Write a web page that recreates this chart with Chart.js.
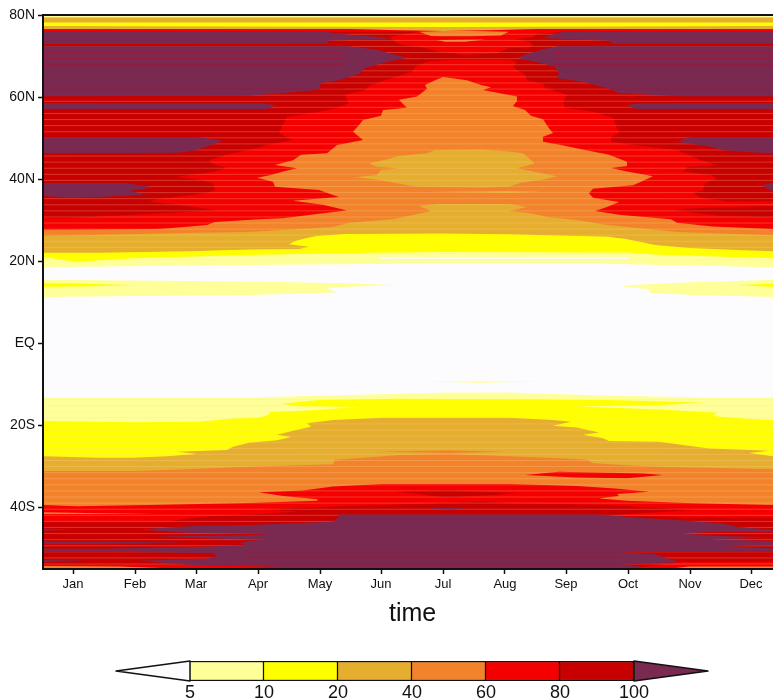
<!DOCTYPE html>
<html>
<head>
<meta charset="utf-8">
<title>time latitude contour</title>
<script src="https://cdn.jsdelivr.net/npm/chart.js@4/dist/chart.umd.min.js"></script>
<style>
  body { margin: 0; background: #fff; }
  canvas { position: absolute; left: 0; }
  #plot { top: 0; }
  #colorbar { top: 650px; }
  #xtitle { position: absolute; left: 389px; top: 598px; color: #111; font: 25px 'Liberation Sans', sans-serif; }
</style>
</head>
<body>
<canvas id="plot" width="773" height="628"></canvas>
<div id="xtitle">time</div>
<canvas id="colorbar" width="773" height="50"></canvas>
<script>
// axis labels, x is day of the year and y is latitude
const months = ["Jan", "Feb", "Mar", "Apr", "May", "Jun", "Jul", "Aug", "Sep", "Oct", "Nov", "Dec"];
const monthDays = [15, 46, 76.5, 107.5, 138.5, 169, 200, 231, 261.5, 292.5, 323.5, 354];
const latTicks = [80, 60, 40, 20, 0, -20, -40];
const latLabels = ["80N", "60N", "40N", "20N", "EQ", "20S", "40S"];
const levelLabels = ["5", "10", "20", "40", "60", "80", "100"];

const WHITE = "#FCFCFF", LEMON = "#FFFF99", YELLOW = "#FFFF00", GOLD = "#E6AE2E";
const ORANGE = "#F2832B", RED = "#F50000", DARK = "#C80000", PURPLE = "#7A2A50";
const ROWLINE = "rgba(255,215,170,0.26)", PURPLELINE = "rgba(200,0,30,0.45)";
const barColors = [LEMON, YELLOW, GOLD, ORANGE, RED, DARK];

// latitudes of the thin lighter rows that show through the fills
const rowLats = [-53.9,-52.42,-50.93,-49.45,-47.96,-46.48,-44.99,-43.51,-42.02,-40.54,-39.05,-37.57,-36.08,-34.6,-33.11,-31.63,-30.14,-28.66,-27.17,-25.69,-24.2,-22.72,-21.23,-19.75,-18.26,-16.78,-15.29,-13.81,
    20.35,21.83,23.32,24.8,26.29,27.77,29.26,30.74,32.23,33.71,35.2,36.68,38.17,39.65,41.14,42.62,44.11,45.59,47.08,48.56,50.05,51.53,53.02,54.5,55.99,57.47,58.96,60.44,61.93,63.41,64.9,66.38,67.87,69.35,70.84,72.32,73.81,75.29];
// the few rows that stay visible inside the purple areas
const purpleRowsLeft = [70.84, 69.35, 67.87, 61.93];
const purpleRowsRight = [70.84, 69.35, 67.87, 61.93];
const purpleRowsSouth = [-50.93, -52.42, -53.9];

// contour regions as [day, latitude] outlines
const plotArea = [[0,80],[365,80],[365,-55.12],[0,-55.12]];

// northern hemisphere, outer levels first
const lemonNorth = [[0,80],[365,80],[365,18.5],[278,19.3],[200,19.4],[103,19.0],[0,18.5]];
const yellowNorth = [[0,79.5],[365,79.5],[365,20.7],[308,21.5],[293,22.1],[200,22.2],[163,22.0],[108,21.5],[45,20.7],[16,19.8],[0,21.0]];
const goldNorth = [[0,22.0],[28,22.0],[73,22.4],[103,22.8],[128,22.9],[133,23.5],[123,24.1],[126,24.9],[132,25.6],[137,26.1],[151,26.6],[200,26.7],[233,26.5],[283,25.9],[287,25.6],[291,25.4],[306,23.9],[323,23.2],[350,22.6],[365,22.4],[365,79.4],[0,79.4]];
const yellowStrip = [[0,78.2],[365,78.2],[365,77.3],[200,77.1],[0,77.3]];
const orangeNorth = [[0,26.1],[78,26.9],[103,27.1],[145,28.3],[153,29.3],[175,30.2],[188,31.5],[194,32.2],[188,33.4],[197,33.9],[233,33.9],[242,33.2],[233,32.2],[243,31.7],[253,30.7],[267,30.0],[282,28.8],[317,27.1],[365,26.3],[365,76.6],[248,76.6],[223,76.3],[200,76.1],[178,76.3],[153,76.6],[0,76.6]];
const redNorth = [[0,27.6],[57,27.8],[63,28.0],[82,28.8],[86,29.5],[108,30.2],[120,30.4],[138,31.5],[152,32.3],[140,33.7],[125,34.7],[148,35.6],[145,36.1],[138,37.3],[116,38.1],[115,39.3],[107,40.3],[114,41.0],[120,41.8],[127,42.6],[116,43.4],[125,44.6],[129,45.9],[142,46.3],[144,47.1],[147,48.3],[160,49.5],[155,51.5],[158,53.2],[160,54.4],[169,55.4],[170,56.8],[182,57.4],[180,58.3],[178,59.3],[187,60.1],[192,62.0],[191,62.9],[196,64.1],[200,64.9],[212,64.1],[219,62.9],[224,62.4],[220,61.7],[237,60.1],[237,59.0],[235,57.8],[241,56.8],[244,55.4],[250,54.6],[253,52.4],[255,51.2],[250,50.3],[250,49.1],[259,48.3],[271,47.1],[283,45.9],[292,44.2],[292,43.2],[284,42.7],[292,41.8],[305,40.7],[299,39.3],[295,38.5],[275,37.6],[273,36.5],[275,35.4],[288,34.4],[282,33.2],[276,32.2],[289,31.2],[314,30.2],[317,29.3],[335,28.4],[365,27.8],[365,76.6],[248,76.6],[223,76.3],[200,76.1],[178,76.3],[153,76.6],[0,76.6]];
const darkLeft = [[0,75.9],[188,75.9],[173,74.7],[177,73.2],[180,72.7],[192,71.9],[198,71.0],[205,70.7],[213,70.0],[213,69.3],[202,69.0],[192,68.6],[186,67.4],[185,66.3],[180,65.4],[173,64.4],[164,62.9],[161,61.7],[151,60.5],[153,58.5],[147,57.3],[138,56.4],[122,55.1],[120,53.2],[118,51.2],[125,49.5],[112,48.3],[108,47.6],[93,46.1],[83,44.6],[85,43.7],[92,42.7],[83,41.5],[67,40.6],[78,39.8],[85,39.0],[86,37.3],[82,36.6],[58,35.1],[53,34.5],[67,33.7],[87,32.4],[62,31.7],[12,30.4],[0,30.5]];
const darkRight = [[365,75.9],[260,75.9],[247,75.4],[245,74.6],[236,74.1],[243,73.5],[245,72.7],[243,72.0],[233,72.0],[227,70.7],[198,70.0],[191,69.5],[202,69.0],[233,69.0],[237,68.6],[235,67.4],[237,66.6],[241,65.4],[242,64.1],[250,63.2],[251,62.2],[262,60.5],[260,58.9],[261,57.3],[275,56.4],[285,54.9],[287,52.4],[288,51.2],[284,50.2],[284,49.1],[295,48.3],[304,47.8],[317,47.1],[329,44.6],[337,43.4],[322,43.0],[320,41.8],[334,41.0],[337,40.0],[331,39.0],[330,37.3],[325,36.6],[329,35.4],[342,34.5],[365,34.6]];
const darkStreak = [[315,32.4],[329,33.0],[365,33.4],[365,30.7],[339,31.0]];
const purpleA = [[0,75.9],[141,75.9],[153,75.2],[175,74.4],[164,74.0],[143,73.8],[142,73.0],[0,72.9]];
const purpleB = [[0,72.4],[153,72.4],[167,71.5],[173,70.7],[182,69.6],[170,68.3],[161,67.1],[158,65.6],[148,64.1],[139,63.4],[138,61.7],[120,61.0],[103,60.3],[0,60.2]];
const purpleC = [[0,58.5],[108,58.5],[117,58.0],[112,57.1],[0,57.1]];
const purpleD = [[0,50.2],[78,50.2],[90,49.3],[81,47.8],[77,47.1],[68,46.4],[0,46.3]];
const purpleE = [[0,39.0],[41,39.0],[55,38.0],[43,37.1],[52,36.2],[28,35.6],[13,35.4],[0,35.9]];
const purpleRightA = [[365,75.9],[260,75.9],[249,74.4],[283,73.7],[285,73.0],[365,73.0]];
const purpleRightB = [[365,72.4],[258,72.4],[253,72.0],[243,70.7],[237,69.6],[250,68.2],[256,67.4],[258,65.9],[257,64.6],[270,63.7],[282,62.2],[288,61.0],[318,60.2],[365,60.2]];
const purpleRightC = [[365,58.5],[298,58.5],[291,58.0],[297,57.1],[365,57.1]];
const purpleRightD = [[365,50.2],[323,50.2],[317,49.1],[333,47.9],[340,47.1],[351,46.6],[365,46.3]];
const purpleRightE = [[359,38.4],[365,39.0],[365,37.1]];
const orangeCap = [[188,75.9],[200,76.1],[216,76.1],[233,75.9],[229,75.0],[214,74.8],[199,74.8],[194,74.9]];
const orangeBlip = [[197,73.9],[221,74.0],[211,73.5],[201,73.5]];
const goldCentre = [[196,47.1],[219,47.2],[233,46.7],[240,46.3],[242,45.4],[246,43.8],[237,42.6],[245,41.8],[257,40.7],[250,39.9],[239,39.1],[233,38.1],[220,37.9],[187,38.1],[167,39.8],[156,40.4],[167,41.0],[169,42.2],[178,42.6],[167,43.0],[163,43.8],[170,44.6],[178,45.6],[192,46.3]];
const goldSliver = [[195,36.9],[233,37.1],[250,36.9],[233,36.6]];
const whiteStreak = [[168,20.8],[293,20.8],[293,20.5],[168,20.5]];
const lemonLeft = [[0,15.4],[103,15.0],[153,14.6],[177,14.1],[153,13.7],[142,13.4],[147,12.3],[103,11.7],[0,11.2]];
const yellowLeft = [[0,14.6],[18,14.5],[46,14.1],[18,13.8],[0,13.7]];
const lemonRight = [[290,14.0],[317,14.7],[365,15.4],[365,11.2],[325,11.7],[304,12.2],[303,13.1],[290,13.7]];
const yellowRight = [[347,14.1],[365,14.5],[365,13.7]];

// southern hemisphere, outer levels first
const lemonSliver = [[188,-9.4],[218,-9.3],[253,-9.4],[218,-9.7]];
const lemonSouth = [[0,-13.3],[103,-13.3],[153,-12.7],[203,-12.1],[233,-12.1],[250,-12.4],[292,-12.9],[333,-13.3],[365,-13.3],[365,-55.12],[0,-55.12]];
const yellowSouth = [[0,-19.0],[45,-19.3],[78,-19.2],[95,-18.4],[108,-18.2],[112,-17.6],[114,-16.8],[128,-16.6],[158,-15.6],[128,-15.4],[119,-14.8],[138,-13.9],[178,-13.6],[233,-13.7],[283,-13.9],[331,-14.6],[308,-15.1],[267,-15.5],[308,-16.2],[337,-17.0],[335,-17.8],[350,-18.4],[365,-18.8],[365,-55.12],[0,-55.12]];
const goldSouth = [[0,-27.6],[28,-28.0],[45,-28.0],[62,-27.6],[77,-27.1],[67,-26.5],[92,-26.1],[95,-25.3],[103,-24.3],[117,-23.7],[124,-22.9],[117,-22.4],[125,-21.4],[134,-20.4],[132,-19.6],[145,-18.8],[170,-18.2],[233,-18.2],[255,-18.8],[264,-19.2],[255,-20.2],[267,-20.6],[278,-21.8],[270,-22.4],[280,-23.2],[283,-23.9],[308,-24.1],[333,-25.7],[363,-26.3],[353,-26.8],[365,-27.6],[365,-55.12],[0,-55.12]];
const orangeSouth = [[0,-31.2],[45,-31.2],[62,-31.0],[103,-30.2],[145,-29.6],[146,-28.5],[162,-27.9],[178,-27.3],[203,-27.1],[233,-27.6],[258,-28.1],[272,-28.5],[275,-29.3],[292,-29.8],[308,-30.2],[365,-30.8],[365,-55.12],[0,-55.12]];
const orangeSliver = [[168,-26.5],[203,-26.2],[231,-26.5],[203,-26.8]];
const redSouth = [[0,-39.5],[17,-39.8],[53,-39.5],[103,-39.0],[137,-38.5],[137.5,-38.1],[120,-37.3],[108,-36.4],[130,-36.0],[145,-35.0],[170,-34.4],[233,-34.4],[267,-34.9],[286,-35.5],[303,-36.3],[287,-36.8],[288,-37.3],[278,-37.9],[292,-38.5],[325,-39.1],[365,-39.5],[365,-55.12],[0,-55.12]];
const redBlob = [[241,-32.2],[258,-31.4],[300,-31.8],[310,-32.2],[292,-33.0],[267,-32.8]];
const orangeStreak = [[0,-41.3],[28,-41.5],[55,-41.5],[28,-41.7],[0,-41.7]];
const darkSouth = [[0,-43.6],[62,-43.6],[78,-42.4],[103,-41.8],[128,-41.1],[108,-40.6],[145,-39.9],[170,-39.5],[220,-38.7],[233,-39.1],[283,-39.5],[326,-40.7],[293,-41.7],[283,-42.2],[317,-42.4],[365,-42.6],[365,-55.12],[0,-55.12]];
const darkBlob = [[175,-36.2],[203,-36.0],[238,-36.6],[228,-37.0],[203,-37.6],[195,-37.3],[188,-36.8]];
const purpleSpeck = [[192,-40.3],[203,-40.2],[212,-40.4],[203,-40.6]];
const purpleSouth = [[147,-41.8],[277,-41.8],[300,-42.7],[318,-43.2],[340,-44.0],[347,-44.8],[365,-45.6],[365,-46.1],[333,-46.1],[320,-46.5],[338,-47.1],[365,-47.4],[332,-47.9],[365,-48.3],[365,-49.3],[341,-49.5],[365,-50.1],[365,-51.0],[288,-51.0],[306,-51.5],[311,-52.4],[315,-52.9],[319,-53.4],[289,-54.1],[299,-54.6],[291,-55.12],[103,-55.12],[117,-54.6],[73,-54.1],[48,-53.1],[81,-52.6],[87,-52.0],[85,-51.3],[43,-51.0],[0,-51.0],[0,-50.2],[28,-50.2],[73,-49.8],[102,-49.3],[98,-48.9],[103,-48.3],[111,-48.0],[103,-47.9],[56,-47.2],[103,-46.9],[113,-46.6],[103,-46.5],[72,-46.3],[48,-45.5],[77,-44.6],[103,-44.4],[145,-43.6],[148,-42.4]];
const purpleStrip = [[0,-48.4],[28,-48.4],[72,-48.7],[28,-49.0],[0,-49.0]];
const purpleTipA = [[0,-45.3],[18,-45.5],[0,-45.7]];
const purpleTipB = [[0,-52.9],[22,-53.1],[0,-53.4]];
const redBottomLeft = [[0,-54.0],[73,-54.1],[117,-54.6],[103,-55.12],[0,-55.12]];
const orangeBottomLeft = [[0,-54.4],[38,-54.5],[66,-55.0],[38,-55.12],[0,-55.12]];
const redBottomRight = [[291,-55.12],[308,-54.1],[319,-53.5],[365,-53.3],[365,-55.12]];
const orangeBottomRight = [[312,-55.12],[323,-54.5],[365,-54.5],[365,-55.12]];

// painted in this order, each one on top of the ones before
const layersBelowRows = [
    [plotArea, WHITE],
    [lemonNorth, LEMON], [yellowNorth, YELLOW], [goldNorth, GOLD], [yellowStrip, YELLOW],
    [orangeNorth, ORANGE], [redNorth, RED], [darkLeft, DARK], [darkRight, DARK], [darkStreak, DARK],
    [orangeCap, ORANGE], [orangeBlip, ORANGE], [goldCentre, GOLD], [goldSliver, GOLD], [whiteStreak, WHITE],
    [lemonLeft, LEMON], [yellowLeft, YELLOW], [lemonRight, LEMON], [yellowRight, YELLOW],
    [lemonSliver, LEMON], [lemonSouth, LEMON], [yellowSouth, YELLOW], [goldSouth, GOLD],
    [orangeSliver, ORANGE], [orangeSouth, ORANGE], [redSouth, RED], [redBlob, RED], [orangeStreak, ORANGE],
    [darkSouth, DARK], [darkBlob, DARK],
    [redBottomLeft, RED], [orangeBottomLeft, ORANGE], [redBottomRight, RED], [orangeBottomRight, ORANGE]
];
const layersAboveRows = [
    [purpleA, PURPLE], [purpleB, PURPLE], [purpleC, PURPLE], [purpleD, PURPLE], [purpleE, PURPLE],
    [purpleRightA, PURPLE], [purpleRightB, PURPLE], [purpleRightC, PURPLE], [purpleRightD, PURPLE], [purpleRightE, PURPLE],
    [purpleSouth, PURPLE], [purpleSpeck, PURPLE], [purpleStrip, PURPLE], [purpleTipA, PURPLE], [purpleTipB, PURPLE]
];

const fillSet = layer => ({
    data: layer[0].map(p => ({ x: p[0], y: p[1] })),
    showLine: true,
    fill: "shape",
    backgroundColor: layer[1],
    borderWidth: 0,
    pointRadius: 0,
    tension: 0
});
const rowSet = (lat, from, to, colour) => ({
    data: [{ x: from, y: lat }, { x: to, y: lat }],
    showLine: true,
    fill: false,
    borderColor: colour,
    borderWidth: 1,
    pointRadius: 0
});

const datasets = [
    ...layersBelowRows.map(fillSet),
    ...rowLats.map(lat => rowSet(lat, 0, 365, ROWLINE)),
    ...layersAboveRows.map(fillSet),
    ...purpleRowsLeft.map(lat => rowSet(lat, 0, 150, PURPLELINE)),
    ...purpleRowsRight.map(lat => rowSet(lat, 255, 365, PURPLELINE)),
    ...purpleRowsSouth.map(lat => rowSet(lat, 100, 290, PURPLELINE))
];
datasets.forEach((d, i) => { d.order = datasets.length - i; });

const FONT = "'Liberation Sans', sans-serif";

const framePlugin = {
    id: "frame",
    afterDraw(chart) {
        const a = chart.chartArea;
        const ctx = chart.ctx;
        ctx.save();
        ctx.strokeStyle = "#111";
        ctx.lineWidth = 2;
        ctx.beginPath();
        ctx.moveTo(a.right, a.top);
        ctx.lineTo(a.left, a.top);
        ctx.lineTo(a.left, a.bottom);
        ctx.lineTo(a.right, a.bottom);
        ctx.stroke();
        ctx.restore();
    }
};

new Chart(document.getElementById("plot"), {
    type: "scatter",
    data: { datasets: datasets },
    options: {
        responsive: false,
        animation: false,
        events: [],
        layout: { padding: { top: 15 } },
        plugins: { legend: { display: false }, tooltip: { enabled: false } },
        scales: {
            x: {
                type: "linear",
                min: 0,
                max: 365,
                afterBuildTicks: axis => { axis.ticks = monthDays.map(v => ({ value: v })); },
                afterFit: axis => { axis.height = 59; },
                ticks: {
                    autoSkip: false,
                    maxRotation: 0,
                    padding: 3,
                    color: "#111",
                    font: { family: FONT, size: 13 },
                    callback: (v, i) => months[i]
                },
                grid: { drawOnChartArea: false, tickLength: 5, tickColor: "#111", tickWidth: 1.5 },
                border: { display: false }
            },
            y: {
                type: "linear",
                min: -55.12,
                max: 80,
                afterBuildTicks: axis => { axis.ticks = latTicks.map(v => ({ value: v })); },
                afterFit: axis => { axis.width = 43; },
                ticks: {
                    padding: 3,
                    color: "#111",
                    font: { family: FONT, size: 14 },
                    callback: (v, i) => latLabels[i]
                },
                grid: { drawOnChartArea: false, tickLength: 5, tickColor: "#111", tickWidth: 1.5 },
                border: { display: false }
            }
        }
    },
    plugins: [framePlugin]
});

// colour bar with the two end triangles
const endTriangles = {
    id: "endTriangles",
    afterDatasetsDraw(chart) {
        const x = chart.scales.x;
        const a = chart.chartArea;
        const mid = (a.top + a.bottom) / 2;
        const ctx = chart.ctx;
        [[-1, 0, WHITE], [7, 6, PURPLE]].forEach(t => {
            ctx.beginPath();
            ctx.moveTo(x.getPixelForValue(t[0]), mid);
            ctx.lineTo(x.getPixelForValue(t[1]), a.top);
            ctx.lineTo(x.getPixelForValue(t[1]), a.bottom);
            ctx.closePath();
            ctx.fillStyle = t[2];
            ctx.fill();
            ctx.strokeStyle = "#111";
            ctx.lineWidth = 1.5;
            ctx.lineJoin = "round";
            ctx.stroke();
        });
    }
};

new Chart(document.getElementById("colorbar"), {
    type: "bar",
    data: {
        labels: [""],
        datasets: barColors.map(c => ({
            data: [1],
            backgroundColor: c,
            borderColor: "#111",
            borderWidth: 1.5,
            barPercentage: 1,
            categoryPercentage: 1
        }))
    },
    options: {
        indexAxis: "y",
        responsive: false,
        animation: false,
        events: [],
        layout: { padding: { top: 11, left: 116, right: 65 } },
        plugins: { legend: { display: false }, tooltip: { enabled: false } },
        scales: {
            x: {
                stacked: true,
                min: -1,
                max: 7,
                afterFit: axis => { axis.height = 19; },
                ticks: {
                    stepSize: 1,
                    padding: 1,
                    autoSkip: false,
                    maxRotation: 0,
                    color: "#111",
                    font: { family: FONT, size: 18 },
                    callback: v => levelLabels[v] || ""
                },
                grid: { display: false, drawTicks: false },
                border: { display: false }
            },
            y: { stacked: true, display: false }
        }
    },
    plugins: [endTriangles]
});
</script>
</body>
</html>
